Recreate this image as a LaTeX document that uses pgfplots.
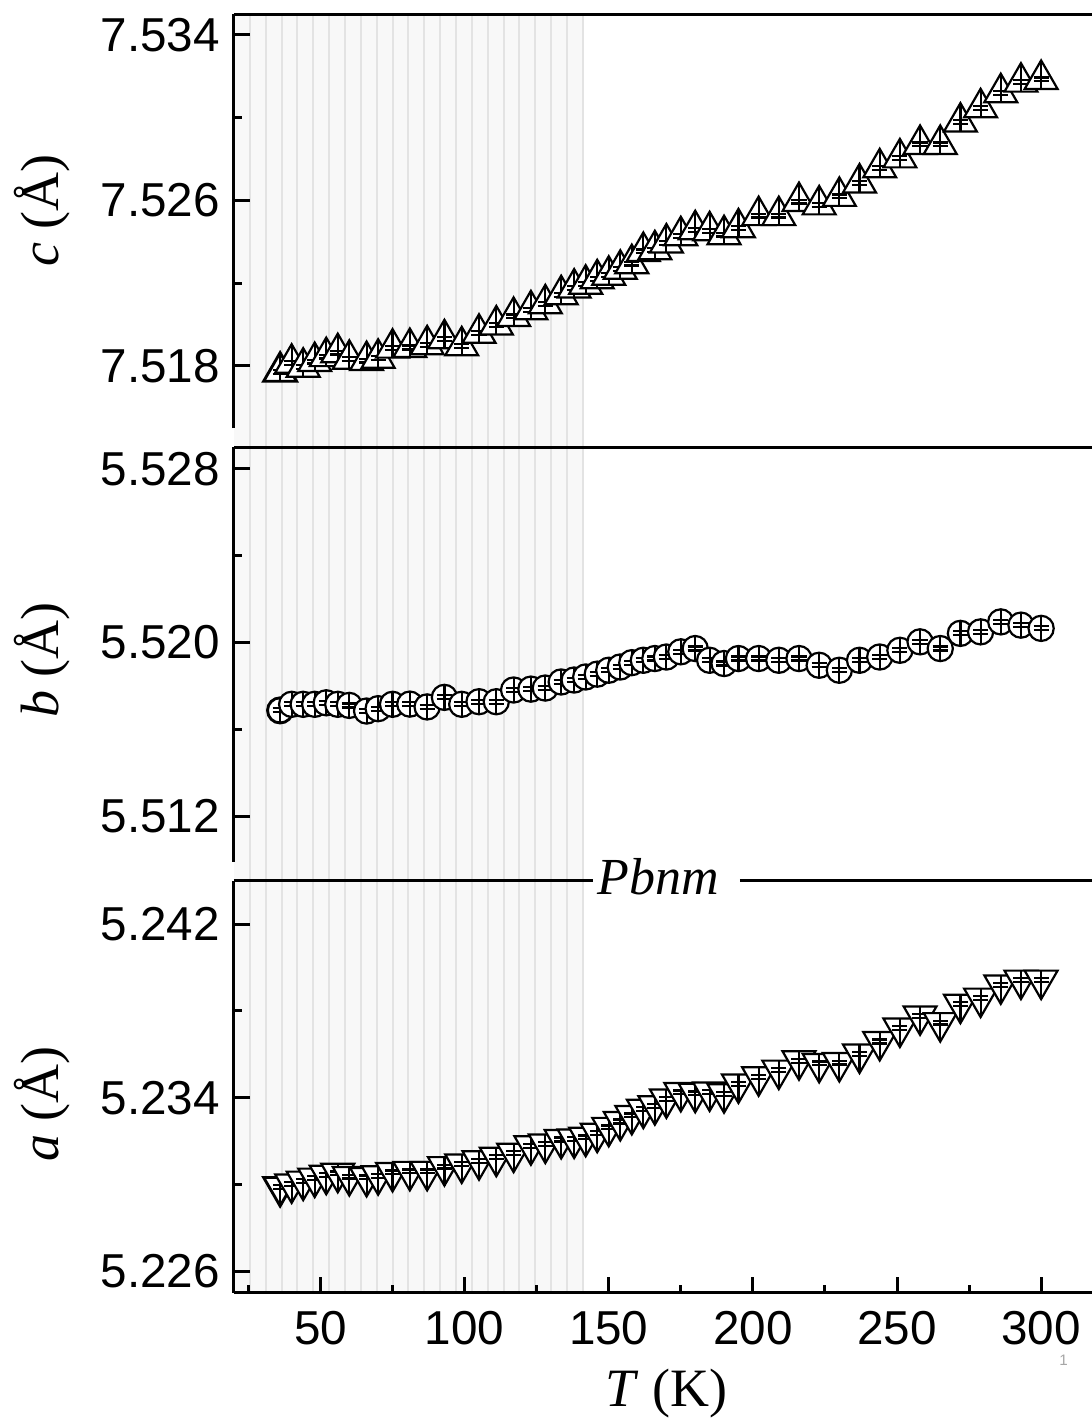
\documentclass[border=0pt]{standalone}
\usepackage{pgfplots}
\pgfplotsset{compat=1.18}
\usepackage{pgfplotstable}
\usepackage{fontspec}
\setmainfont{Liberation Serif}
\newfontfamily\sansf{Liberation Sans}
\definecolor{bgshade}{HTML}{F8F8F8}
\definecolor{bgline}{HTML}{E3E3E3}

% marker with an inner vertical bar and small error-bar caps
\pgfdeclareplotmark{tripipe}{%
  \pgfpathmoveto{\pgfqpoint{0pt}{\pgfplotmarksize}}%
  \pgfpathlineto{\pgfqpointpolar{-150}{\pgfplotmarksize}}%
  \pgfpathlineto{\pgfqpointpolar{-30}{\pgfplotmarksize}}%
  \pgfpathclose
  \pgfusepath{fill,stroke}%
  \pgfsetlinewidth{0.55pt}%
  \pgfpathmoveto{\pgfqpoint{0pt}{\pgfplotmarksize}}%
  \pgfpathlineto{\pgfqpoint{0pt}{-0.5\pgfplotmarksize}}%
  \pgfpathmoveto{\pgfqpoint{-1.9pt}{0.48pt}}\pgfpathlineto{\pgfqpoint{1.9pt}{0.48pt}}%
  \pgfpathmoveto{\pgfqpoint{-1.9pt}{-0.48pt}}\pgfpathlineto{\pgfqpoint{1.9pt}{-0.48pt}}%
  \pgfusepath{stroke}%
}
\pgfdeclareplotmark{circpipe}{%
  \pgfpathcircle{\pgfpointorigin}{\pgfplotmarksize}%
  \pgfusepath{fill,stroke}%
  \pgfsetlinewidth{0.55pt}%
  \pgfpathmoveto{\pgfqpoint{0pt}{\pgfplotmarksize}}%
  \pgfpathlineto{\pgfqpoint{0pt}{-\pgfplotmarksize}}%
  \pgfpathmoveto{\pgfqpoint{-1.9pt}{0.5pt}}\pgfpathlineto{\pgfqpoint{1.9pt}{0.5pt}}%
  \pgfpathmoveto{\pgfqpoint{-1.9pt}{-0.5pt}}\pgfpathlineto{\pgfqpoint{1.9pt}{-0.5pt}}%
  \pgfusepath{stroke}%
}

\pgfplotstableread{
T c b a
36 7.51772 5.51687 5.22988
40 7.51813 5.51715 5.23002
44 7.51794 5.51715 5.23015
48 7.51821 5.51715 5.23029
52 7.51845 5.51722 5.23042
56 7.51864 5.51715 5.23051
60 7.51832 5.51710 5.23036
66 7.51826 5.51684 5.23032
70 7.51837 5.51695 5.23040
75 7.51886 5.51715 5.23055
81 7.51889 5.51716 5.23060
87 7.51902 5.51703 5.23060
93 7.51931 5.51747 5.23082
99 7.51897 5.51715 5.23094
105 7.51958 5.51727 5.23109
111 7.51998 5.51727 5.23125
117 7.52039 5.51781 5.23144
123 7.52071 5.51785 5.23178
128 7.52100 5.51790 5.23186
133.5 7.52144 5.51818 5.23207
138 7.52176 5.51827 5.23209
142 7.52195 5.51841 5.23217
146 7.52221 5.51854 5.23236
150 7.52238 5.51872 5.23263
154 7.52267 5.51887 5.23290
158 7.52294 5.51907 5.23318
162 7.52353 5.51918 5.23347
166 7.52361 5.51926 5.23363
170 7.52394 5.51933 5.23394
175 7.52429 5.51957 5.23424
180 7.52458 5.51972 5.23420
185 7.52453 5.51918 5.23426
190 7.52434 5.51903 5.23418
195 7.52467 5.51926 5.23463
202 7.52526 5.51926 5.23496
209 7.52526 5.51918 5.23527
216 7.52594 5.51926 5.23570
223 7.52578 5.51895 5.23558
230 7.52619 5.51872 5.23562
237 7.52684 5.51918 5.23601
244 7.52757 5.51933 5.23659
251 7.52805 5.51964 5.23721
258 7.52870 5.52003 5.23777
265 7.52870 5.51972 5.23746
272 7.52978 5.52042 5.23831
279 7.53047 5.52049 5.23859
286 7.53120 5.52095 5.23920
293 7.53171 5.52080 5.23942
300 7.53184 5.52065 5.23942
}\data

\pgfplotsset{
  panel/.style={
    scale only axis, width=216.2pt, xmin=20, xmax=320, clip=false,
    axis y line*=left, tick align=inside,
    axis line style={line width=0.75pt, black},
    every tick/.style={black, line width=0.75pt},
    major tick length=3.9pt, minor tick length=1.9pt,
    ticklabel style={font=\sansf\fontsize{11.9}{14}\selectfont},
    yticklabel style={xshift=0pt},
    every axis y label/.style={at={(axis description cs:-0.222,#1)}, anchor=center, rotate=90, font=\fontsize{13.5}{16}\selectfont},
  },
  mk/.style n args={3}{only marks, mark=#1, mark size=#2, mark options={fill=white, draw=black, line width=0.72pt, rotate=#3}},
}

\begin{document}
\begin{tikzpicture}
\useasboundingbox (0pt,0pt) rectangle (273pt,-354.5pt);

% background shading
\begin{axis}[scale only axis, width=216.2pt, height=319.7pt, at={(58.5pt,-323.2pt)}, anchor=south west,
  xmin=20, xmax=320, ymin=0, ymax=1, hide axis, clip=false]
  \fill[bgshade] (axis cs:20,0) rectangle (axis cs:141,1);
  \pgfplotsinvokeforeach{25.5,31,36.5,42,47.5,53,58.5,64,69.5,75,80.5,86,91.5,97,102.5,108,113.5,119,124.5,130,135.5,141}{
    \draw[bgline, line width=0.5pt] (axis cs:#1,0) -- (axis cs:#1,1);
  }
\end{axis}

% top panel c
\begin{axis}[panel=0.525, height=103.5pt, at={(58.5pt,-107pt)}, anchor=south west,
  axis x line*=top, xtick=\empty,
  ymin=7.515, ymax=7.535, ytick={7.518,7.526,7.534}, yticklabels={7.518,7.526,7.534},
  minor ytick={7.522,7.530},
  ylabel={\textit{c} (Å)}]
  \addplot[mk={tripipe}{4.75pt}{0}] table[x=T,y=c]{\data};
\end{axis}

% middle panel b
\begin{axis}[panel=0.487, height=103.6pt, at={(58.5pt,-215.4pt)}, anchor=south west,
  axis x line*=top, xtick=\empty,
  ymin=5.5099, ymax=5.529, ytick={5.512,5.520,5.528}, yticklabels={5.512,5.520,5.528},
  minor ytick={5.516,5.524},
  ylabel={\textit{b} (Å)}]
  \addplot[mk={circpipe}{3.15pt}{0}] table[x=T,y=b]{\data};
\end{axis}

% bottom panel a
\begin{axis}[panel=0.458, height=103pt, at={(58.5pt,-323.2pt)}, anchor=south west,
  axis x line*=bottom,
  xtick={50,100,150,200,250,300}, xticklabels={50,100,150,200,250,300},
  minor xtick={25,75,125,175,225,275},
  xticklabel style={yshift=-1pt},
  ymin=5.225, ymax=5.244, ytick={5.226,5.234,5.242}, yticklabels={5.226,5.234,5.242},
  minor ytick={5.230,5.238},
  ylabel={\textit{a} (Å)},
  every axis x label/.style={at={(axis description cs:0.5,0)}, anchor=base, yshift=-28.3pt, font=\fontsize{13.5}{16}\selectfont},
  xlabel={\textit{T} (K)}]
  \draw[black, line width=0.75pt] (axis cs:20,5.244) -- (axis cs:144.5,5.244);
  \draw[black, line width=0.75pt] (axis cs:195.5,5.244) -- (axis cs:320,5.244);
  \node[anchor=base, font=\fontsize{13}{15}\selectfont\itshape, inner sep=0pt] at (axis cs:167.3,5.24339) {Pbnm};
  \addplot[mk={tripipe}{4.75pt}{180}] table[x=T,y=a]{\data};
\end{axis}

\node[gray!70, font=\sansf\fontsize{3.8}{4}\selectfont] at (265.9pt,-340pt) {1};
\end{tikzpicture}
\end{document}
